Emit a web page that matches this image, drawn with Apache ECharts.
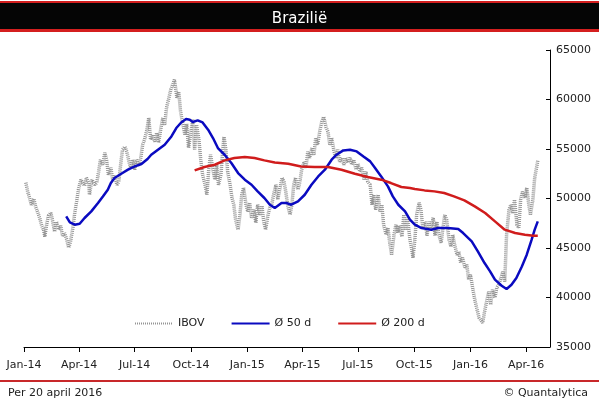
<!DOCTYPE html>
<html>
<head>
<meta charset="utf-8">
<script src="https://cdn.jsdelivr.net/npm/echarts@6/dist/echarts.min.js"></script>
<style>
  html, body { margin: 0; padding: 0; background: #fff; }
  #chart { width: 599px; height: 399px; }
</style>
</head>
<body>
<div id="chart"></div>
<script>

var ibovDates = [
    '2014-01-04', '2014-01-07', '2014-01-10', '2014-01-13', '2014-01-17', '2014-01-20', '2014-01-23', '2014-01-27', '2014-01-30', '2014-02-02',
    '2014-02-04', '2014-02-07', '2014-02-10', '2014-02-14', '2014-02-17', '2014-02-20', '2014-02-23', '2014-02-27', '2014-03-02', '2014-03-05',
    '2014-03-08', '2014-03-12', '2014-03-15', '2014-03-18', '2014-03-22', '2014-03-25', '2014-03-28', '2014-03-31', '2014-04-04', '2014-04-07',
    '2014-04-10', '2014-04-13', '2014-04-17', '2014-04-18', '2014-04-22', '2014-04-27', '2014-04-30', '2014-05-03', '2014-05-06', '2014-05-10',
    '2014-05-13', '2014-05-16', '2014-05-19', '2014-05-23', '2014-05-26', '2014-05-29', '2014-06-02', '2014-06-05', '2014-06-08', '2014-06-11',
    '2014-06-15', '2014-06-18', '2014-06-21', '2014-06-24', '2014-06-28', '2014-07-01', '2014-07-04', '2014-07-08', '2014-07-11', '2014-07-14',
    '2014-07-17', '2014-07-21', '2014-07-24', '2014-07-27', '2014-07-30', '2014-08-03', '2014-08-06', '2014-08-09', '2014-08-13', '2014-08-16',
    '2014-08-19', '2014-08-22', '2014-08-26', '2014-08-29', '2014-09-01', '2014-09-04', '2014-09-08', '2014-09-11', '2014-09-14', '2014-09-18',
    '2014-09-21', '2014-09-24', '2014-09-27', '2014-10-01', '2014-10-04', '2014-10-07', '2014-10-10', '2014-10-14', '2014-10-17', '2014-10-20',
    '2014-10-24', '2014-10-27', '2014-10-30', '2014-11-02', '2014-11-06', '2014-11-09', '2014-11-12', '2014-11-15', '2014-11-19', '2014-11-22',
    '2014-11-24', '2014-11-27', '2014-11-30', '2014-12-04', '2014-12-07', '2014-12-10', '2014-12-13', '2014-12-17', '2014-12-20', '2014-12-23',
    '2014-12-26', '2014-12-30', '2015-01-02', '2015-01-05', '2015-01-08', '2015-01-12', '2015-01-15', '2015-01-18', '2015-01-22', '2015-01-25',
    '2015-01-28', '2015-01-31', '2015-02-04', '2015-02-07', '2015-02-10', '2015-02-13', '2015-02-17', '2015-02-20', '2015-02-23', '2015-02-27',
    '2015-03-02', '2015-03-05', '2015-03-08', '2015-03-12', '2015-03-15', '2015-03-18', '2015-03-21', '2015-03-25', '2015-03-28', '2015-03-31',
    '2015-04-04', '2015-04-07', '2015-04-10', '2015-04-13', '2015-04-17', '2015-04-20', '2015-04-23', '2015-04-26', '2015-04-30', '2015-05-03',
    '2015-05-06', '2015-05-10', '2015-05-13', '2015-05-16', '2015-05-19', '2015-05-23', '2015-05-26', '2015-05-29', '2015-06-01', '2015-06-05',
    '2015-06-08', '2015-06-11', '2015-06-15', '2015-06-18', '2015-06-21', '2015-06-24', '2015-06-28', '2015-07-01', '2015-07-04', '2015-07-07',
    '2015-07-11', '2015-07-14', '2015-07-17', '2015-07-21', '2015-07-24', '2015-07-27', '2015-07-30', '2015-08-03', '2015-08-06', '2015-08-09',
    '2015-08-12', '2015-08-16', '2015-08-19', '2015-08-22', '2015-08-25', '2015-08-29', '2015-09-01', '2015-09-04', '2015-09-07', '2015-09-11',
    '2015-09-14', '2015-09-17', '2015-09-20', '2015-09-24', '2015-09-27', '2015-09-29', '2015-10-02', '2015-10-05', '2015-10-09', '2015-10-12',
    '2015-10-15', '2015-10-19', '2015-10-22', '2015-10-25', '2015-10-28', '2015-11-01', '2015-11-04', '2015-11-07', '2015-11-10', '2015-11-14',
    '2015-11-17', '2015-11-20', '2015-11-23', '2015-11-27', '2015-11-30', '2015-12-03', '2015-12-06', '2015-12-10', '2015-12-13', '2015-12-16',
    '2015-12-19', '2015-12-23', '2015-12-26', '2015-12-29', '2016-01-01', '2016-01-05', '2016-01-08', '2016-01-11', '2016-01-15', '2016-01-18',
    '2016-01-21', '2016-01-24', '2016-01-28', '2016-01-31', '2016-02-03', '2016-02-06', '2016-02-10', '2016-02-13', '2016-02-16', '2016-02-19',
    '2016-02-23', '2016-02-26', '2016-02-29', '2016-03-04', '2016-03-07', '2016-03-10', '2016-03-13', '2016-03-17', '2016-03-20', '2016-03-23',
    '2016-03-26', '2016-03-30', '2016-04-02', '2016-04-05', '2016-04-08', '2016-04-12', '2016-04-15', '2016-04-18', '2016-04-20'
];
var ibovValues = [
    51600, 50690, 50080, 49370, 49980, 49170, 48670, 47960, 47250, 46850,
    46140, 47350, 48260, 48560, 47660, 46650, 47660, 46850, 47250, 46240,
    46540, 45840, 45030, 45640, 47050, 48560, 49680, 50890, 51900, 52100,
    51290, 52100, 51600, 50380, 51900, 51390, 51600, 52710, 53920, 53410,
    54620, 53920, 52400, 53110, 51900, 52300, 51390, 51700, 53410, 54930,
    55230, 54730, 53920, 53110, 53920, 52910, 53920, 53310, 54120, 55430,
    55940, 56950, 58160, 55940, 56440, 55740, 56640, 55630, 57150, 58160,
    57450, 59170, 60180, 60990, 61490, 62000, 60180, 60790, 58770, 57450,
    56440, 57550, 55130, 56750, 57960, 54930, 57450, 55940, 53920, 52400,
    51390, 50380, 52910, 54420, 52910, 51900, 53410, 51390, 52400, 54930,
    56240, 54930, 52710, 51390, 50080, 49370, 47860, 46850, 48360, 50380,
    51090, 49370, 48670, 49570, 48060, 48870, 47550, 49370, 48360, 49270,
    47660, 46850, 48360, 49070, 49370, 50380, 51390, 49880, 50890, 52100,
    51700, 50690, 49370, 48360, 49370, 51390, 52100, 50890, 51700, 52910,
    53720, 53110, 54730, 54120, 55130, 54420, 56140, 55430, 56950, 57760,
    58260, 57150, 56750, 55430, 56140, 54730, 54120, 54930, 53720, 54120,
    53410, 54120, 53610, 54120, 53410, 53920, 52910, 53510, 52710, 53110,
    51900, 52710, 51700, 51390, 49370, 50380, 48870, 50380, 48670, 49370,
    47350, 46340, 47050, 45530, 44320, 46340, 47350, 46550, 47250, 46140,
    48360, 46850, 48060, 45840, 44830, 44020, 45840, 48360, 49570, 48870,
    47050, 47660, 46240, 47660, 46850, 48060, 46240, 47660, 46440, 45530,
    47050, 48360, 47860, 45840, 45130, 46340, 45330, 44320, 44630, 43510,
    44020, 43010, 43310, 41800, 42300, 40790, 39780, 38970, 37960, 37760,
    37450, 38570, 39780, 40590, 39270, 40790, 39980, 40990, 41290, 41800,
    42610, 41600, 46340, 48870, 49370, 48560, 49880, 47350, 47050, 49880,
    50690, 50080, 51090, 49570, 48360, 49880, 52100, 53110, 53820
];

// 50-daags gemiddelde
var ma50Dates = [
    '2014-03-11', '2014-03-17', '2014-03-25', '2014-04-02', '2014-04-10', '2014-04-21', '2014-05-02', '2014-05-10', '2014-05-18', '2014-05-23',
    '2014-05-29', '2014-06-09', '2014-06-20', '2014-07-01', '2014-07-12', '2014-07-22', '2014-07-28', '2014-08-08', '2014-08-19', '2014-08-30',
    '2014-09-07', '2014-09-15', '2014-09-23', '2014-09-29', '2014-10-04', '2014-10-12', '2014-10-20', '2014-10-29', '2014-11-06', '2014-11-14',
    '2014-11-25', '2014-12-06', '2014-12-17', '2014-12-28', '2015-01-08', '2015-01-18', '2015-01-29', '2015-02-07', '2015-02-15', '2015-02-26',
    '2015-03-06', '2015-03-14', '2015-03-25', '2015-04-05', '2015-04-16', '2015-04-27', '2015-05-08', '2015-05-19', '2015-05-27', '2015-06-07',
    '2015-06-18', '2015-06-29', '2015-07-10', '2015-07-21', '2015-07-29', '2015-08-08', '2015-08-19', '2015-08-27', '2015-09-05', '2015-09-16',
    '2015-09-24', '2015-10-02', '2015-10-13', '2015-10-29', '2015-11-09', '2015-11-25', '2015-12-12', '2015-12-20', '2016-01-03', '2016-01-13',
    '2016-01-24', '2016-02-02', '2016-02-10', '2016-02-21', '2016-02-29', '2016-03-08', '2016-03-16', '2016-03-25', '2016-04-02', '2016-04-10',
    '2016-04-15', '2016-04-20'
];
var ma50Values = [
    48190, 47580, 47350, 47450, 48030, 48700, 49540, 50210, 50890, 51560,
    52070, 52500, 52910, 53240, 53480, 53990, 54420, 54930, 55430, 56270,
    57120, 57680, 58030, 57960, 57730, 57890, 57680, 56950, 56110, 55100,
    54420, 53580, 52570, 51900, 51390, 50720, 50050, 49370, 49040, 49540,
    49540, 49370, 49710, 50380, 51390, 52230, 52910, 53920, 54420, 54860,
    54930, 54760, 54250, 53750, 53080, 52230, 51220, 50210, 49370, 48700,
    47860, 47350, 47020, 46850, 47020, 47020, 46920, 46510, 45670, 44660,
    43480, 42640, 41800, 41190, 40860, 41290, 41970, 43140, 44320, 45840,
    46850, 47690
];

// 200-daags gemiddelde
var ma200Dates = [
    '2014-10-07', '2014-10-23', '2014-11-09', '2014-11-25', '2014-12-11', '2014-12-28', '2015-01-13', '2015-01-29', '2015-02-15', '2015-03-09',
    '2015-03-30', '2015-04-21', '2015-05-13', '2015-06-04', '2015-06-26', '2015-07-17', '2015-08-08', '2015-08-24', '2015-09-10', '2015-09-24',
    '2015-10-02', '2015-10-18', '2015-11-03', '2015-11-19', '2015-12-05', '2015-12-22', '2016-01-08', '2016-01-25', '2016-02-10', '2016-02-26',
    '2016-03-14', '2016-03-30', '2016-04-13', '2016-04-20'
];
var ma200Values = [
    52840, 53180, 53410, 53850, 54090, 54190, 54090, 53850, 53640, 53510,
    53240, 53180, 53180, 52910, 52500, 52170, 51900, 51560, 51160, 51060,
    50960, 50820, 50720, 50550, 50210, 49810, 49200, 48530, 47690, 46850,
    46510, 46340, 46240, 46240
];

var yTicks = { min: 35000, max: 65000, interval: 5000 };

function pairs(dates, values) {
    var out = [];
    for (var i = 0; i < dates.length; i++) {
        out.push([dates[i], values[i]]);
    }
    return out;
}

var font = 'DejaVu Sans';

var myChart = echarts.init(document.getElementById('chart'), null, { renderer: 'canvas' });

var option = {
    animation: false,
    backgroundColor: '#fff',
    textStyle: { fontFamily: font },
    graphic: [
        { type: 'rect', shape: { x: 0, y: 1, width: 599, height: 2 }, style: { fill: '#d41f1f' } },
        { type: 'rect', shape: { x: 0, y: 3, width: 599, height: 26 }, style: { fill: '#050505' } },
        { type: 'rect', shape: { x: 0, y: 29, width: 599, height: 3 }, style: { fill: '#d41f1f' } },
        { type: 'rect', shape: { x: 0, y: 380, width: 599, height: 2 }, style: { fill: '#c8282a' } }
    ],
    title: [
        {
            text: 'Brazilië',
            left: 'center',
            top: 7,
            textStyle: { color: '#fff', fontSize: 15, fontWeight: 'normal', fontFamily: font }
        },
        {
            text: 'Per 20 april 2016',
            left: 3,
            top: 383,
            textStyle: { color: '#222', fontSize: 11, fontWeight: 'normal', fontFamily: font }
        },
        {
            text: '© Quantalytica',
            right: 6,
            top: 383,
            textStyle: { color: '#222', fontSize: 11, fontWeight: 'normal', fontFamily: font }
        }
    ],
    legend: {
        left: 129,
        top: 313,
        itemWidth: 38,
        itemHeight: 10,
        itemGap: 26,
        itemStyle: { opacity: 0 },
        textStyle: { color: '#222', fontSize: 11, fontFamily: font },
        data: [
            { name: 'IBOV' },
            { name: 'Ø 50 d' },
            { name: 'Ø 200 d' }
        ]
    },
    grid: {
        left: 24,
        right: 49,
        top: 50,
        bottom: 52,
        containLabel: false
    },
    xAxis: {
        type: 'time',
        min: '2014-01-01',
        max: '2016-05-10',
        minInterval: 3600 * 24 * 1000 * 85,
        maxInterval: 3600 * 24 * 1000 * 95,
        axisLine: { lineStyle: { color: '#000', width: 1 } },
        axisTick: { show: true, inside: false, length: 5, lineStyle: { color: '#000' } },
        axisLabel: {
            color: '#222',
            fontSize: 11,
            fontFamily: font,
            margin: 13,
            showMinLabel: true,
            hideOverlap: false,
            formatter: '{MMM}-{yy}'
        },
        splitLine: { show: false }
    },
    yAxis: {
        type: 'value',
        position: 'right',
        min: yTicks.min,
        max: yTicks.max,
        interval: yTicks.interval,
        axisLine: { show: true, lineStyle: { color: '#000', width: 1 } },
        axisTick: { show: true, inside: true, length: 4, lineStyle: { color: '#000' } },
        axisLabel: {
            color: '#222',
            fontSize: 11,
            fontFamily: font,
            margin: 6,
            formatter: function (v) { return String(v); }
        },
        splitLine: { show: false }
    },
    series: [
        {
            name: 'IBOV',
            type: 'line',
            showSymbol: false,
            symbol: 'none',
            color: '#959595',
            lineStyle: { color: '#959595', width: 3.5, type: [1, 1] },
            data: pairs(ibovDates, ibovValues)
        },
        {
            name: 'Ø 50 d',
            type: 'line',
            showSymbol: false,
            symbol: 'none',
            color: '#0a0ac0',
            lineStyle: { color: '#0a0ac0', width: 2.5 },
            data: pairs(ma50Dates, ma50Values)
        },
        {
            name: 'Ø 200 d',
            type: 'line',
            showSymbol: false,
            symbol: 'none',
            color: '#d01c1c',
            lineStyle: { color: '#d01c1c', width: 2.5 },
            data: pairs(ma200Dates, ma200Values)
        }
    ]
};

myChart.setOption(option);

</script>
</body>
</html>
